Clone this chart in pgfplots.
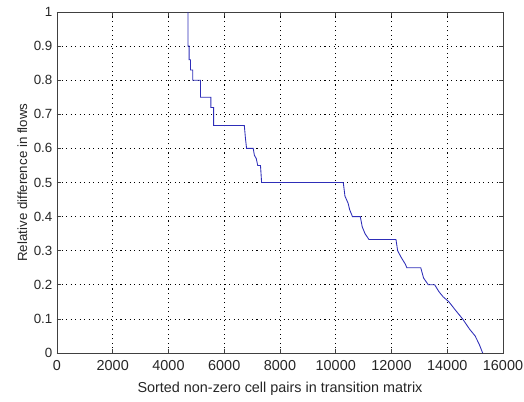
\documentclass[border=0pt]{standalone}
\usepackage{fontspec}
\setmainfont{Liberation Sans}
\usepackage{pgfplots}
\pgfplotsset{compat=1.18}
\begin{document}
\begin{tikzpicture}[x=1pt,y=1pt]
\begin{axis}[
  name=ax,
  scale only axis,
  width=334.5pt, height=255.75pt,
  xmin=0, xmax=16000, ymin=0, ymax=1,
  xtick={0,2000,...,16000},
  ytick={0,0.1,...,1.0},
  yticklabels={0,0.1,0.2,0.3,0.4,0.5,0.6,0.7,0.8,0.9,1},
  scaled ticks=false,
  /pgf/number format/set thousands separator={},
  /pgf/number format/assume math mode=true,
  tick align=inside,
  major tick length=3pt,
  xtick pos=both, ytick pos=both,
  grid=major,
  major grid style={black, dash pattern=on 0.8pt off 2.6pt, line width=0.6pt},
  axis line style={black!75, line width=0.7pt},
  every tick/.style={black!75, line width=0.5pt},
  xticklabel style={font=\fontsize{10.8}{12}\selectfont, text=black!85, yshift=-2pt},
  yticklabel style={font=\fontsize{10}{12}\selectfont, text=black!85},
  xlabel style={font=\fontsize{10.8}{12}\selectfont, text=black!85, yshift=-2pt},
  ylabel style={font=\fontsize{10}{12}\selectfont, text=black!85, yshift=-2pt},
  xlabel={Sorted non-zero cell pairs in transition matrix},
  ylabel={Relative difference in flows},
]
\addplot[color={rgb,1:red,0.18;green,0.18;blue,0.72}, line width=0.65pt] coordinates {
(4700,1.0)
(4700,0.90)
(4740,0.90)
(4740,0.86)
(4790,0.86)
(4790,0.83)
(4870,0.83)
(4870,0.80)
(5150,0.80)
(5150,0.75)
(5520,0.75)
(5520,0.72)
(5620,0.72)
(5620,0.667)
(6720,0.667)
(6760,0.63)
(6800,0.60)
(7040,0.60)
(7080,0.58)
(7150,0.57)
(7200,0.55)
(7300,0.55)
(7340,0.5)
(10270,0.5)
(10330,0.46)
(10440,0.44)
(10500,0.42)
(10600,0.40)
(10880,0.40)
(10950,0.37)
(11050,0.35)
(11190,0.333)
(12160,0.333)
(12220,0.30)
(12350,0.28)
(12500,0.26)
(12550,0.25)
(13050,0.25)
(13150,0.22)
(13320,0.20)
(13550,0.20)
(13700,0.18)
(13850,0.165)
(14060,0.15)
(14300,0.125)
(14550,0.10)
(14800,0.07)
(15000,0.05)
(15150,0.025)
(15270,0)
};
\end{axis}
\pgfresetboundingbox
\path[use as bounding box] (ax.south west) ++(-42.75pt,-36pt) rectangle ([shift={(15.75pt,9pt)}]ax.north east);
\end{tikzpicture}
\end{document}
